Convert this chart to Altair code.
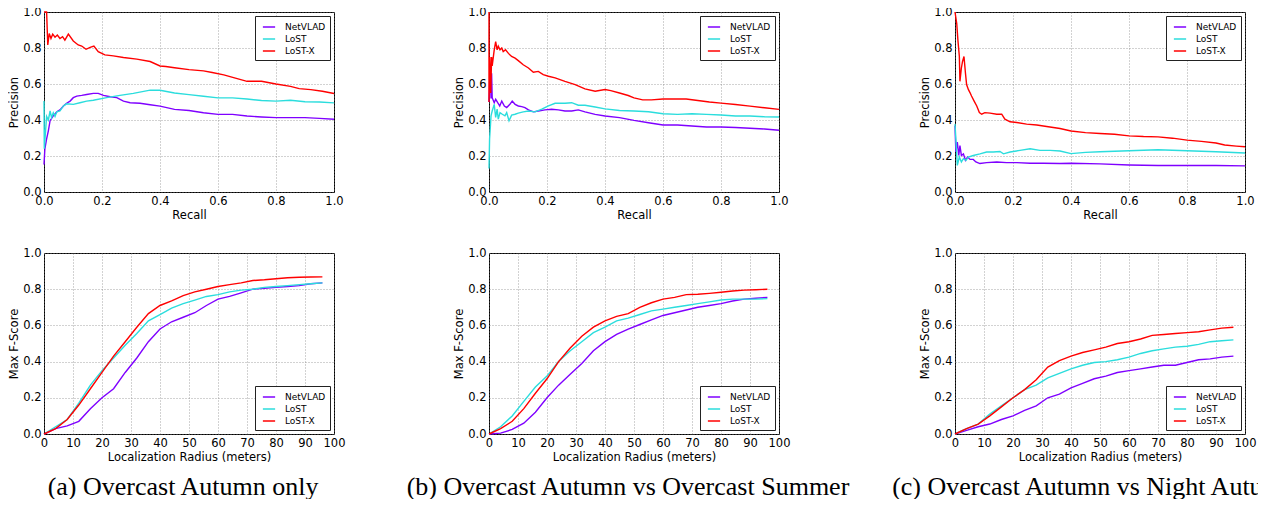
import altair as alt
import pandas as pd

METHODS = ["NetVLAD", "LoST", "LoST-X"]
COLORS = ["#7f00ff", "#2bdddd", "#ff0000"]

# ---------- Precision-Recall, (a) Overcast Autumn only ----------
a_net_r = [0.0, 0.003, 0.009, 0.015, 0.021, 0.032, 0.044, 0.055, 0.067, 0.078, 0.09, 0.101, 0.113, 0.13, 0.147, 0.17, 0.187, 0.205, 0.228, 0.251, 0.274, 0.297, 0.331, 0.366, 0.4, 0.45, 0.5, 0.55, 0.6, 0.65, 0.7, 0.75, 0.8, 0.85, 0.9, 0.95, 1.0]
a_net_p = [0.152, 0.24, 0.295, 0.34, 0.396, 0.423, 0.445, 0.456, 0.478, 0.493, 0.505, 0.524, 0.533, 0.537, 0.542, 0.548, 0.548, 0.537, 0.529, 0.524, 0.505, 0.496, 0.493, 0.485, 0.477, 0.459, 0.453, 0.44, 0.431, 0.431, 0.422, 0.417, 0.413, 0.413, 0.413, 0.409, 0.404]
a_lost_r = [0.0, 0.001, 0.009, 0.015, 0.021, 0.026, 0.032, 0.038, 0.044, 0.055, 0.067, 0.078, 0.101, 0.124, 0.147, 0.17, 0.216, 0.262, 0.308, 0.366, 0.4, 0.45, 0.5, 0.55, 0.6, 0.65, 0.7, 0.75, 0.8, 0.85, 0.9, 0.95, 1.0]
a_lost_p = [0.505, 0.24, 0.42, 0.40, 0.45, 0.414, 0.44, 0.42, 0.445, 0.45, 0.478, 0.49, 0.487, 0.496, 0.505, 0.51, 0.524, 0.537, 0.548, 0.566, 0.565, 0.55, 0.541, 0.532, 0.523, 0.523, 0.517, 0.508, 0.505, 0.51, 0.501, 0.50, 0.495]
a_lostx_r = [0.0, 0.009, 0.013, 0.018, 0.024, 0.03, 0.038, 0.046, 0.055, 0.064, 0.072, 0.084, 0.101, 0.118, 0.13, 0.145, 0.159, 0.172, 0.187, 0.21, 0.239, 0.274, 0.32, 0.366, 0.4, 0.42, 0.45, 0.5, 0.55, 0.58, 0.62, 0.66, 0.7, 0.75, 0.8, 0.85, 0.88, 0.92, 0.96, 1.0]
a_lostx_p = [1.0, 1.0, 0.817, 0.88, 0.853, 0.877, 0.86, 0.872, 0.853, 0.863, 0.844, 0.877, 0.839, 0.817, 0.811, 0.793, 0.804, 0.811, 0.78, 0.762, 0.756, 0.747, 0.738, 0.725, 0.70, 0.697, 0.69, 0.68, 0.673, 0.664, 0.651, 0.633, 0.615, 0.615, 0.60, 0.587, 0.574, 0.569, 0.56, 0.547]

# ---------- Precision-Recall, (b) Overcast Autumn vs Overcast Summer ----------
b_net_r = [0.0, 0.004, 0.007, 0.009, 0.011, 0.018, 0.023, 0.03, 0.037, 0.044, 0.053, 0.061, 0.072, 0.08, 0.09, 0.101, 0.113, 0.124, 0.136, 0.153, 0.17, 0.193, 0.216, 0.239, 0.262, 0.285, 0.308, 0.331, 0.366, 0.4, 0.45, 0.5, 0.55, 0.6, 0.65, 0.7, 0.75, 0.8, 0.85, 0.9, 0.95, 1.0]
b_net_p = [0.5, 0.70, 0.52, 0.66, 0.524, 0.496, 0.515, 0.496, 0.478, 0.505, 0.478, 0.469, 0.487, 0.505, 0.487, 0.478, 0.474, 0.469, 0.456, 0.445, 0.45, 0.456, 0.46, 0.456, 0.45, 0.45, 0.456, 0.445, 0.431, 0.422, 0.413, 0.398, 0.385, 0.372, 0.372, 0.367, 0.361, 0.361, 0.358, 0.354, 0.35, 0.343]
b_lost_r = [0.0, 0.002, 0.007, 0.011, 0.018, 0.023, 0.028, 0.032, 0.038, 0.046, 0.055, 0.061, 0.069, 0.078, 0.09, 0.101, 0.118, 0.136, 0.159, 0.182, 0.205, 0.228, 0.262, 0.285, 0.308, 0.331, 0.366, 0.4, 0.45, 0.5, 0.55, 0.6, 0.65, 0.7, 0.75, 0.8, 0.85, 0.9, 0.95, 1.0]
b_lost_p = [0.13, 0.295, 0.423, 0.45, 0.487, 0.414, 0.46, 0.405, 0.441, 0.432, 0.423, 0.441, 0.396, 0.427, 0.432, 0.438, 0.445, 0.45, 0.445, 0.46, 0.478, 0.493, 0.493, 0.496, 0.482, 0.482, 0.472, 0.462, 0.453, 0.45, 0.446, 0.435, 0.431, 0.435, 0.431, 0.428, 0.422, 0.422, 0.418, 0.417]
b_lostx_r = [0.0, 0.0, 0.003, 0.006, 0.009, 0.011, 0.018, 0.023, 0.028, 0.032, 0.038, 0.044, 0.049, 0.057, 0.067, 0.078, 0.09, 0.101, 0.118, 0.136, 0.153, 0.17, 0.187, 0.205, 0.228, 0.262, 0.297, 0.331, 0.366, 0.4, 0.42, 0.45, 0.48, 0.5, 0.53, 0.56, 0.6, 0.65, 0.68, 0.72, 0.76, 0.8, 0.85, 0.9, 0.95, 1.0]
b_lostx_p = [1.0, 0.5, 0.75, 0.55, 0.75, 0.70, 0.79, 0.835, 0.79, 0.81, 0.79, 0.80, 0.78, 0.79, 0.77, 0.753, 0.744, 0.73, 0.707, 0.689, 0.665, 0.67, 0.652, 0.643, 0.634, 0.615, 0.597, 0.573, 0.56, 0.569, 0.563, 0.55, 0.536, 0.523, 0.512, 0.512, 0.517, 0.517, 0.517, 0.508, 0.50, 0.494, 0.486, 0.477, 0.468, 0.459]

# ---------- Precision-Recall, (c) Overcast Autumn vs Night Autumn ----------
c_net_r = [0.0, 0.003, 0.008, 0.013, 0.017, 0.022, 0.029, 0.036, 0.043, 0.052, 0.063, 0.072, 0.086, 0.109, 0.144, 0.178, 0.213, 0.259, 0.305, 0.362, 0.4, 0.5, 0.6, 0.7, 0.8, 0.9, 1.0]
c_net_p = [0.368, 0.222, 0.277, 0.203, 0.258, 0.203, 0.212, 0.176, 0.194, 0.181, 0.181, 0.167, 0.158, 0.163, 0.167, 0.163, 0.163, 0.16, 0.16, 0.158, 0.16, 0.156, 0.15, 0.147, 0.147, 0.147, 0.145]
c_lost_r = [0.0, 0.003, 0.008, 0.015, 0.022, 0.029, 0.038, 0.046, 0.063, 0.086, 0.109, 0.132, 0.155, 0.167, 0.19, 0.224, 0.259, 0.293, 0.328, 0.362, 0.4, 0.45, 0.5, 0.6, 0.7, 0.8, 0.9, 1.0]
c_lost_p = [0.377, 0.295, 0.148, 0.194, 0.167, 0.185, 0.176, 0.194, 0.203, 0.212, 0.222, 0.222, 0.225, 0.212, 0.222, 0.231, 0.24, 0.231, 0.231, 0.228, 0.213, 0.22, 0.224, 0.229, 0.235, 0.229, 0.224, 0.217]
c_lostx_r = [0.0, 0.006, 0.01, 0.015, 0.017, 0.022, 0.026, 0.031, 0.036, 0.04, 0.046, 0.052, 0.057, 0.066, 0.075, 0.084, 0.092, 0.103, 0.121, 0.144, 0.161, 0.172, 0.19, 0.213, 0.247, 0.282, 0.316, 0.362, 0.4, 0.45, 0.5, 0.55, 0.6, 0.65, 0.7, 0.75, 0.8, 0.85, 0.9, 0.93, 0.97, 1.0]
c_lostx_p = [1.0, 0.936, 0.844, 0.753, 0.615, 0.689, 0.725, 0.753, 0.661, 0.597, 0.57, 0.551, 0.533, 0.505, 0.478, 0.441, 0.432, 0.441, 0.438, 0.432, 0.432, 0.405, 0.39, 0.386, 0.377, 0.372, 0.364, 0.353, 0.339, 0.33, 0.325, 0.321, 0.312, 0.308, 0.306, 0.299, 0.288, 0.281, 0.272, 0.261, 0.255, 0.251]

# ---------- Max F-Score vs Localization Radius ----------
radius = [0, 4, 8, 12, 16, 20, 24, 28, 32, 36, 40, 44, 48, 52, 56, 60, 64, 68, 72, 76, 80, 84, 88, 92, 96]
a_net_f = [0.0, 0.03, 0.045, 0.07, 0.14, 0.2, 0.25, 0.34, 0.42, 0.51, 0.58, 0.62, 0.645, 0.67, 0.71, 0.745, 0.76, 0.78, 0.80, 0.805, 0.81, 0.815, 0.82, 0.83, 0.835]
a_lost_f = [0.0, 0.04, 0.08, 0.17, 0.27, 0.35, 0.42, 0.49, 0.555, 0.625, 0.66, 0.695, 0.72, 0.74, 0.76, 0.77, 0.785, 0.795, 0.80, 0.81, 0.815, 0.82, 0.825, 0.83, 0.835]
a_lostx_f = [0.0, 0.03, 0.08, 0.16, 0.25, 0.34, 0.43, 0.51, 0.59, 0.665, 0.71, 0.735, 0.765, 0.785, 0.80, 0.815, 0.825, 0.835, 0.848, 0.852, 0.858, 0.863, 0.866, 0.867, 0.868]
b_net_f = [0.0, 0.005, 0.025, 0.06, 0.12, 0.2, 0.27, 0.33, 0.39, 0.46, 0.51, 0.55, 0.58, 0.605, 0.63, 0.655, 0.67, 0.685, 0.70, 0.71, 0.72, 0.735, 0.745, 0.75, 0.755]
b_lost_f = [0.0, 0.04, 0.1, 0.18, 0.26, 0.32, 0.40, 0.46, 0.51, 0.56, 0.59, 0.625, 0.64, 0.66, 0.68, 0.69, 0.70, 0.71, 0.72, 0.73, 0.74, 0.745, 0.745, 0.745, 0.748]
b_lostx_f = [0.0, 0.03, 0.07, 0.14, 0.225, 0.305, 0.40, 0.475, 0.54, 0.59, 0.625, 0.65, 0.665, 0.70, 0.725, 0.745, 0.755, 0.77, 0.772, 0.777, 0.783, 0.79, 0.795, 0.797, 0.80]
c_net_f = [0.0, 0.02, 0.04, 0.055, 0.08, 0.10, 0.13, 0.155, 0.20, 0.22, 0.255, 0.28, 0.305, 0.32, 0.34, 0.35, 0.36, 0.37, 0.38, 0.38, 0.395, 0.41, 0.415, 0.425, 0.43]
c_lost_f = [0.0, 0.03, 0.055, 0.11, 0.155, 0.20, 0.245, 0.27, 0.31, 0.335, 0.36, 0.38, 0.395, 0.40, 0.41, 0.425, 0.445, 0.46, 0.47, 0.48, 0.485, 0.495, 0.51, 0.515, 0.52]
c_lostx_f = [0.0, 0.03, 0.055, 0.10, 0.15, 0.20, 0.245, 0.30, 0.37, 0.405, 0.43, 0.45, 0.465, 0.48, 0.50, 0.51, 0.525, 0.545, 0.55, 0.555, 0.56, 0.565, 0.575, 0.585, 0.59]

captions = [
    "(a) Overcast Autumn only",
    "(b) Overcast Autumn vs Overcast Summer",
    "(c) Overcast Autumn vs Night Autumn",
]

PANEL_W = 290
TOP_H = 180
BOT_H = 181
GAP_AB = 155
GAP_BC = 176
FRAC_TICKS = [0.0, 0.2, 0.4, 0.6, 0.8, 1.0]
RADIUS_TICKS = [0, 10, 20, 30, 40, 50, 60, 70, 80, 90, 100]


def color_enc(orient):
    return alt.Color(
        "method:N",
        scale=alt.Scale(domain=METHODS, range=COLORS),
        legend=alt.Legend(title=None, orient=orient, offset=4),
    )


def pr_chart(series):
    rows = []
    for m, (rs, ps) in zip(METHODS, series):
        for i, (r, p) in enumerate(zip(rs, ps)):
            rows.append({"recall": r, "precision": p, "method": m, "i": i})
    df = pd.DataFrame(rows)
    return alt.Chart(df).mark_line(strokeWidth=1.4).encode(
        x=alt.X("recall:Q", scale=alt.Scale(domain=[0, 1], nice=False),
                axis=alt.Axis(title="Recall", values=FRAC_TICKS, format=".1f")),
        y=alt.Y("precision:Q", scale=alt.Scale(domain=[0, 1], nice=False),
                axis=alt.Axis(title="Precision", values=FRAC_TICKS, format=".1f")),
        color=color_enc("top-right"),
        order="i:Q",
    ).properties(width=PANEL_W, height=TOP_H)


def f_chart(series, caption):
    rows = []
    for m, fs in zip(METHODS, series):
        for i, (x, f) in enumerate(zip(radius, fs)):
            rows.append({"radius": x, "fscore": f, "method": m, "i": i})
    df = pd.DataFrame(rows)
    return alt.Chart(df).mark_line(strokeWidth=1.4).encode(
        x=alt.X("radius:Q", scale=alt.Scale(domain=[0, 100], nice=False),
                axis=alt.Axis(title="Localization Radius (meters)", values=RADIUS_TICKS, format="d")),
        y=alt.Y("fscore:Q", scale=alt.Scale(domain=[0, 1], nice=False),
                axis=alt.Axis(title="Max F-Score", values=FRAC_TICKS, format=".1f")),
        color=color_enc("bottom-right"),
        order="i:Q",
    ).properties(
        width=PANEL_W, height=BOT_H,
        title=alt.TitleParams(
            text=caption, orient="bottom", anchor="middle", frame="group",
            font="Liberation Serif", fontSize=26, fontWeight="normal",
            color="black", offset=11, dx=-6,
        ),
    )


def spacer(w):
    return alt.Chart(pd.DataFrame({"s": [0]})).mark_point(opacity=0).encode(
        x=alt.X("s:Q", axis=None), y=alt.Y("s:Q", axis=None)
    ).properties(width=w, height=10, view=alt.ViewBackground(stroke="transparent"))


panels = [
    pr_chart([(a_net_r, a_net_p), (a_lost_r, a_lost_p), (a_lostx_r, a_lostx_p)]),
    spacer(GAP_AB),
    pr_chart([(b_net_r, b_net_p), (b_lost_r, b_lost_p), (b_lostx_r, b_lostx_p)]),
    spacer(GAP_BC),
    pr_chart([(c_net_r, c_net_p), (c_lost_r, c_lost_p), (c_lostx_r, c_lostx_p)]),
    f_chart([a_net_f, a_lost_f, a_lostx_f], captions[0]),
    spacer(GAP_AB),
    f_chart([b_net_f, b_lost_f, b_lostx_f], captions[1]),
    spacer(GAP_BC),
    f_chart([c_net_f, c_lost_f, c_lostx_f], captions[2]),
]

chart = alt.concat(
    *panels, columns=5, spacing={"row": 61, "column": 0}, bounds="flush", align="each"
).resolve_scale(color="independent").resolve_legend(color="independent").properties(
    autosize=alt.AutoSizeParams(type="none"),
    padding={"left": 36, "top": 4, "right": 1214, "bottom": 487},
).configure_view(
    stroke="black", strokeWidth=1
).configure_axis(
    labelFont="DejaVu Sans", labelFontSize=11.5, labelColor="black",
    titleFont="DejaVu Sans", titleFontSize=11.5, titleFontWeight="normal", titleColor="black",
    domain=False, tickSize=0, labelPadding=3, titlePadding=3, labelFlush=False,
    grid=True, gridColor="#808080", gridDash=[1, 2], gridWidth=0.7,
).configure_legend(
    labelFont="DejaVu Sans", labelFontSize=9, labelColor="black",
    strokeColor="#222222", fillColor="white", padding=4, cornerRadius=0,
    symbolType="stroke", symbolSize=150, symbolStrokeWidth=1.5,
    rowPadding=0, labelOffset=9, symbolOffset=3,
)

chart.save("out.html", embed_options={"renderer": "svg", "actions": False})
